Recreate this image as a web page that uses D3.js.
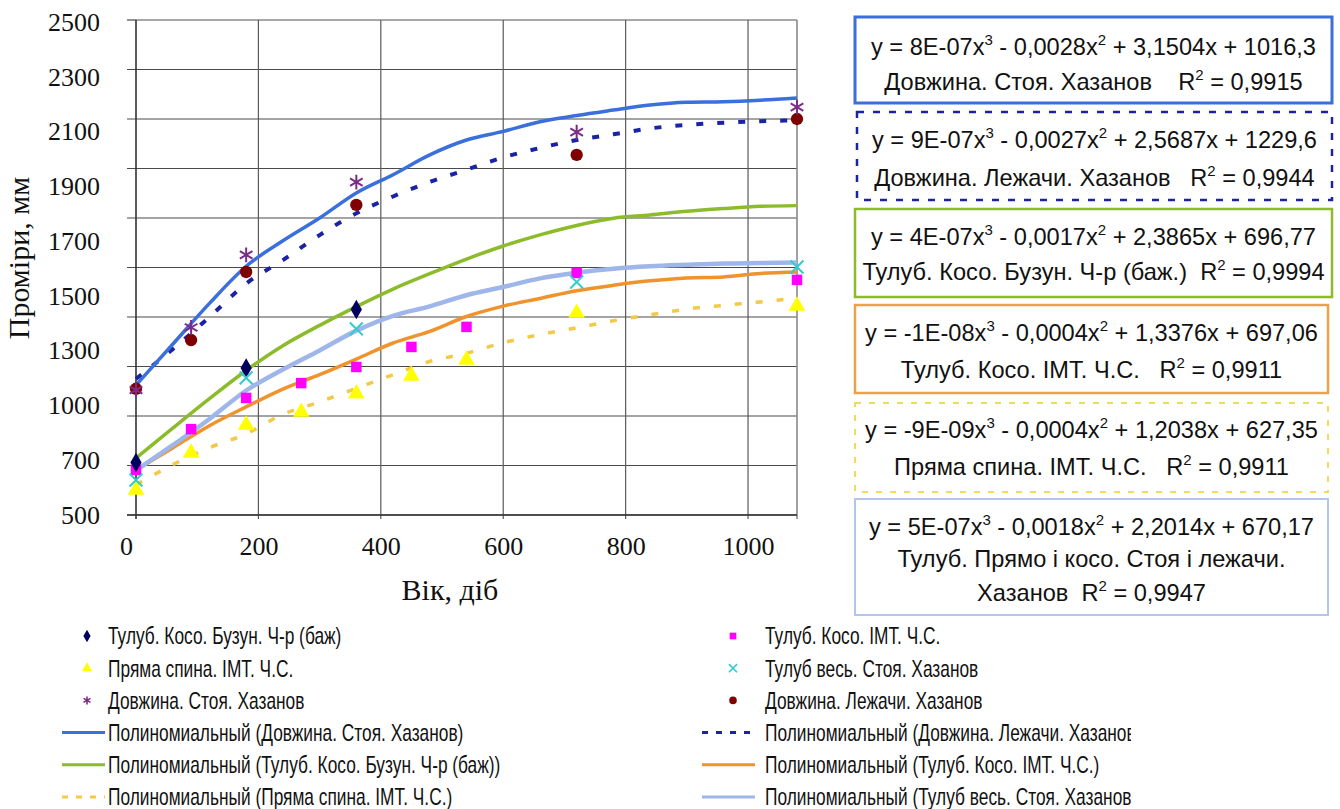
<!DOCTYPE html>
<html><head><meta charset="utf-8">
<script src="https://cdn.jsdelivr.net/npm/d3@7"></script>
<style>body{margin:0;background:#fff}svg{display:block}</style>
</head><body>
<svg id="c" width="1340" height="809"></svg>
<script>
// ---------- data ----------
const trendX = [0,60,120,180,240,300,360,420,480,540,600,660,720,780,840,900,960,1020,1080];
const trendDovzhStoya  = [1025,1190,1355,1505,1608,1700,1801,1875,1955,2015,2050,2089,2114,2136,2157,2168,2170,2176,2185];
const trendDovzhLezh   = [1050,1170,1300,1435,1530,1631,1719,1787,1846,1895,1945,1983,2015,2038,2062,2076,2085,2091,2095];
const trendBuzun       = [730,851,970,1084,1184,1266,1342,1413,1475,1534,1587,1632,1670,1699,1712,1727,1738,1747,1750];
const trendImtKoso     = [682,771,861,937,1009,1067,1130,1195,1242,1302,1344,1375,1406,1428,1446,1458,1462,1476,1482];
const trendPryama      = [622,703,772,828,907,957,1012,1067,1120,1154,1196,1229,1256,1285,1309,1332,1347,1361,1376];
const trendTulubVes    = [680,782,888,1003,1088,1165,1245,1305,1343,1388,1421,1456,1479,1495,1505,1511,1516,1518,1520];

const ptBuzunX = [0,180,360];
const ptBuzunY = [712,1094,1330];
const ptPryamaX = [0,90,180,270,360,450,540,720,1080];
const ptPryamaY = [601,751,864,916,990,1062,1126,1316,1345];
const ptStoyaX = [0,90,180,360,720,1080];
const ptStoyaY = [1005,1258,1551,1845,2047,2148];
const ptImtKosoX = [0,90,180,270,360,450,540,720,1080];
const ptImtKosoY = [682,847,973,1033,1098,1179,1260,1478,1450];
const ptTulubVesX = [0,180,360,720,1080];
const ptTulubVesY = [641,1054,1252,1441,1502];
const ptLezhX = [0,90,180,360,720,1080];
const ptLezhY = [1010,1207,1482,1753,1955,2100];

const yGridValues = [500,700,900,1100,1300,1500,1700,1900,2100,2300,2500];
const yTickLabels = ["2500","2300","2100","1900","1700","1500","1300","1000","700","500"];
const xTickValues = [0,200,400,600,800,1000];

const eqC3 = ["8E-07","9E-07","4E-07","-1E-08","-9E-09","5E-07"];
const eqC2 = ["0,0028","0,0027","0,0017","0,0004","0,0004","0,0018"];
const eqC1 = ["3,1504","2,5687","2,3865","1,3376","1,2038","2,2014"];
const eqC0 = ["1016,3","1229,6","696,77","697,06","627,35","670,17"];
const eqNames = [["Довжина. Стоя. Хазанов    "],["Довжина. Лежачи. Хазанов   "],["Тулуб. Косо. Бузун. Ч-р (баж.)  "],["Тулуб. Косо. ІМТ. Ч.С.   "],["Пряма спина. ІМТ. Ч.С.   "],["Тулуб. Прямо і косо. Стоя і лежачи.","Хазанов  "]];
const eqR2 = ["0,9915","0,9944","0,9994","0,9911","0,9911","0,9947"];

const legendLeft = ["Тулуб. Косо. Бузун. Ч-р (баж)","Пряма спина. ІМТ. Ч.С.","Довжина. Стоя. Хазанов","Полиномиальный (Довжина. Стоя. Хазанов)","Полиномиальный (Тулуб. Косо. Бузун. Ч-р (баж))","Полиномиальный (Пряма спина. ІМТ. Ч.С.)"];
const legendRight = ["Тулуб. Косо. ІМТ. Ч.С.","Тулуб весь. Стоя. Хазанов","Довжина. Лежачи. Хазанов","Полиномиальный (Довжина. Лежачи. Хазанов)","Полиномиальный (Тулуб. Косо. ІМТ. Ч.С.)","Полиномиальный (Тулуб весь. Стоя. Хазанов)"];

// ---------- styles ----------
const C = {
  stoya:"#3b6fdc", lezhLine:"#1a22a6", buzun:"#8cbb2c", imt:"#f0932c", pryamaLine:"#f2c948", tulub:"#9fb6ea",
  diamond:"#00005e", tri:"#ffff00", ast:"#7b2c86", sq:"#ff00ff", times:"#33cccc", circ:"#7f0000"
};
const SERIF = "'Liberation Serif','Times New Roman',serif";
const SANS = "'Liberation Sans',Arial,sans-serif";

const svg = d3.select('#c');
const X0=136, X1=797, Y0=515, Y1=20;
const x = d3.scaleLinear().domain([0,1080]).range([X0,X1]);
const y = d3.scaleLinear().domain([500,2500]).range([Y0,Y1]);
const yLab = d3.scalePoint().domain(yTickLabels).range([22,515]);

// grid
const grid = svg.append('g');
grid.selectAll('line.h').data(yGridValues).join('line')
  .attr('x1',127).attr('x2',d=>d===2500?X0:X1).attr('y1',d=>y(d)).attr('y2',d=>y(d))
  .attr('stroke','#4a4a4a').attr('stroke-width',1.2);
grid.append('line').attr('x1',X0).attr('x2',X1).attr('y1',y(2500)).attr('y2',y(2500)).attr('stroke','#8a8a8a').attr('stroke-width',1.6);
grid.selectAll('line.v').data(xTickValues.filter(d=>d>0)).join('line')
  .attr('x1',d=>x(d)).attr('x2',d=>x(d)).attr('y1',Y1).attr('y2',Y0+4)
  .attr('stroke','#5a5a5a').attr('stroke-width',1.2);
grid.append('line').attr('x1',x(1080)).attr('x2',x(1080)).attr('y1',Y1).attr('y2',Y0+4).attr('stroke','#8a8a8a').attr('stroke-width',1.6);
grid.append('line').attr('x1',X0).attr('x2',X0).attr('y1',Y1).attr('y2',Y0+4).attr('stroke','#333').attr('stroke-width',1.6);
grid.append('line').attr('x1',127).attr('x2',X1).attr('y1',Y0).attr('y2',Y0).attr('stroke','#333').attr('stroke-width',1.6);

// y tick labels (as in the picture: evenly spaced labels)
const ya = svg.append('g').attr('transform',`translate(${X0},0)`)
  .call(d3.axisLeft(yLab).tickSize(0).tickPadding(36));
ya.select('.domain').remove();
ya.selectAll('text').attr('font-family',SERIF).attr('font-size',26).attr('fill','#111');

const xa = svg.append('g').attr('transform',`translate(0,${Y0})`)
  .call(d3.axisBottom(x).tickValues(xTickValues).tickFormat(d3.format('d')).tickSize(0).tickPadding(22));
xa.select('.domain').remove();
xa.selectAll('text').attr('font-family',SERIF).attr('font-size',26).attr('fill','#111')
  .attr('dx',d=>d===0?-10:0);

svg.append('text').attr('transform','translate(29,258) rotate(-90)').attr('text-anchor','middle')
  .attr('font-family',SERIF).attr('font-size',30).attr('fill','#111').text('Проміри, мм');
svg.append('text').attr('x',450).attr('y',600).attr('text-anchor','middle')
  .attr('font-family',SERIF).attr('font-size',30).attr('fill','#111').text('Вік, діб');

// trend lines
const line = d3.line().x((d,i)=>x(trendX[i])).y(d=>y(d)).curve(d3.curveMonotoneX);
const trends = [
  {v:trendPryama, c:C.pryamaLine, w:3.5, dash:"7,14"},
  {v:trendImtKoso, c:C.imt, w:3.5},
  {v:trendTulubVes, c:C.tulub, w:4.5},
  {v:trendBuzun, c:C.buzun, w:3.5},
  {v:trendDovzhLezh, c:C.lezhLine, w:4, dash:"7,14"},
  {v:trendDovzhStoya, c:C.stoya, w:3.5}
];
svg.append('g').selectAll('path').data(trends).join('path')
  .attr('d',d=>line(d.v)).attr('fill','none').attr('stroke',d=>d.c).attr('stroke-width',d=>d.w)
  .attr('stroke-dasharray',d=>d.dash||null);

// markers
function drawPts(xs, ys, type, size, fill, stroke, sw){
  svg.append('g').selectAll('path').data(ys).join('path')
    .attr('transform',(d,i)=>`translate(${x(xs[i])},${y(d)})`)
    .attr('d',d3.symbol().type(type).size(size))
    .attr('fill',fill).attr('stroke',stroke).attr('stroke-width',sw);
}
drawPts(ptImtKosoX, ptImtKosoY, d3.symbolSquare, 110, C.sq, 'none', 0);
drawPts(ptBuzunX, ptBuzunY, d3.symbolDiamond, 110, C.diamond, 'none', 0);
drawPts(ptPryamaX, ptPryamaY, d3.symbolTriangle, 120, C.tri, 'none', 0);
drawPts(ptLezhX, ptLezhY, d3.symbolCircle, 120, C.circ, 'none', 0);
drawPts(ptTulubVesX, ptTulubVesY, d3.symbolTimes, 110, 'none', C.times, 2);
drawPts(ptStoyaX, ptStoyaY, d3.symbolAsterisk, 150, 'none', C.ast, 2);

// equation boxes
const boxes = [
  {x:855,y:17,w:477,h:86,c:C.stoya,sw:3,dash:null,ly:[47,82]},
  {x:857,y:112,w:475,h:88,c:C.lezhLine,sw:2.5,dash:"7,9",ly:[140,178]},
  {x:855,y:209,w:477,h:88,c:C.buzun,sw:2.5,dash:null,ly:[237,272]},
  {x:855,y:305,w:473,h:88,c:"#eca24a",sw:2.5,dash:null,ly:[333,370]},
  {x:855,y:403,w:473,h:89,c:"#f3da5a",sw:2,dash:"6,8",ly:[430,467]},
  {x:855,y:499,w:473,h:116,c:"#b3c5ec",sw:2,dash:null,ly:[527,559,593]}
];
const EQF = 23.6;
boxes.forEach((b,i)=>{
  const g = svg.append('g');
  g.append('rect').attr('x',b.x).attr('y',b.y).attr('width',b.w).attr('height',b.h)
    .attr('fill','#fff').attr('stroke',b.c).attr('stroke-width',b.sw).attr('stroke-dasharray',b.dash);
  const cx = b.x + b.w/2;
  const t = g.append('text').attr('x',cx).attr('y',b.ly[0]).attr('dy','0.36em').attr('text-anchor','middle')
    .attr('font-family',SANS).attr('font-size',EQF).attr('fill','#111').style('white-space','pre');
  t.append('tspan').text(`y = ${eqC3[i]}x`);
  t.append('tspan').attr('dy',-10).attr('font-size',15).text('3');
  t.append('tspan').attr('dy',10).text(` - ${eqC2[i]}x`);
  t.append('tspan').attr('dy',-10).attr('font-size',15).text('2');
  t.append('tspan').attr('dy',10).text(` + ${eqC1[i]}x + ${eqC0[i]}`);
  eqNames[i].forEach((nm,k)=>{
    const tt = g.append('text').attr('x',cx).attr('y',b.ly[k+1]).attr('dy','0.36em').attr('text-anchor','middle')
      .attr('font-family',SANS).attr('font-size',EQF).attr('fill','#111').style('white-space','pre');
    tt.append('tspan').text(nm);
    if(k===eqNames[i].length-1){
      tt.append('tspan').text('R');
      tt.append('tspan').attr('dy',-10).attr('font-size',15).text('2');
      tt.append('tspan').attr('dy',10).text(' = ' + eqR2[i]);
    }
  });
});

// legend
svg.append('clipPath').attr('id','lclip').append('rect').attr('x',0).attr('y',600).attr('width',1131).attr('height',209);
const leg = svg.append('g').attr('clip-path','url(#lclip)');
const rowY = i => 636 + i*32.2;
const legItems = [
  {col:0,i:0,kind:'sym',type:d3.symbolDiamond,fill:C.diamond},
  {col:0,i:1,kind:'sym',type:d3.symbolTriangle,fill:C.tri},
  {col:0,i:2,kind:'sym',type:d3.symbolAsterisk,stroke:C.ast},
  {col:0,i:3,kind:'line',c:C.stoya},
  {col:0,i:4,kind:'line',c:C.buzun},
  {col:0,i:5,kind:'line',c:C.pryamaLine,dash:"6,8"},
  {col:1,i:0,kind:'sym',type:d3.symbolSquare,fill:C.sq},
  {col:1,i:1,kind:'sym',type:d3.symbolTimes,stroke:C.times},
  {col:1,i:2,kind:'sym',type:d3.symbolCircle,fill:C.circ},
  {col:1,i:3,kind:'line',c:C.lezhLine,dash:"6,8"},
  {col:1,i:4,kind:'line',c:C.imt},
  {col:1,i:5,kind:'line',c:C.tulub}
];
const colGeo = [{mx:87,l1:62,l2:105,tx:108},{mx:733,l1:702,l2:755,tx:765}];
legItems.forEach(it=>{
  const g = colGeo[it.col], yy = rowY(it.i);
  if(it.kind==='sym'){
    leg.append('path').attr('transform',`translate(${g.mx},${yy})`)
      .attr('d',d3.symbol().type(it.type).size(45))
      .attr('fill',it.fill||'none').attr('stroke',it.stroke||'none').attr('stroke-width',it.stroke?1.6:0);
  } else {
    leg.append('line').attr('x1',g.l1).attr('x2',g.l2).attr('y1',yy).attr('y2',yy)
      .attr('stroke',it.c).attr('stroke-width',3).attr('stroke-dasharray',it.dash||null);
  }
  leg.append('text').attr('transform',`translate(${g.tx},${yy}) scale(0.74,1)`).attr('dy','0.36em')
    .attr('font-family',SANS).attr('font-size',23.4).attr('fill','#111')
    .text((it.col===0?legendLeft:legendRight)[it.i]);
});
</script>
</body></html>
